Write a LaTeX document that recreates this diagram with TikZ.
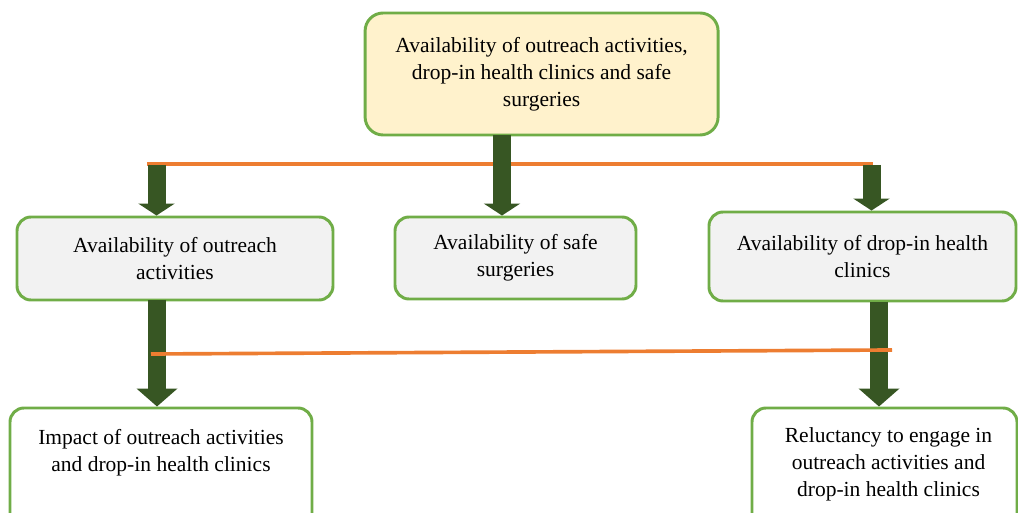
\documentclass[tikz,border=0pt]{standalone}
\usepackage{fontspec}
\setmainfont{LiberationSerif}[Extension=.ttf,UprightFont=*-Regular,BoldFont=*-Bold]
\usepackage{tikz}
\usetikzlibrary{arrows.meta,positioning,calc}
\definecolor{cEdge}{HTML}{70AD47}
\definecolor{cTop}{HTML}{FFF2CC}
\definecolor{cMid}{HTML}{F2F2F2}
\definecolor{cBar}{HTML}{ED7D31}
\definecolor{cArr}{HTML}{375623}

\begin{document}
\begin{tikzpicture}[
  font=\fontsize{15.3}{19.2}\selectfont,
  box/.style={draw=cEdge,line width=2.1pt,rounded corners=3.5mm,align=center,
              inner sep=2pt},
  txt/.style={align=center,inner sep=0pt},
  bar/.style={cBar,line width=2.6pt},
  fat/.style={cArr,line width=0.45cm,-{Triangle[width=0.9cm,length=0.3cm]}},
  fatter/.style={cArr,line width=0.45cm,-{Triangle[width=1cm,length=0.45cm]}}
]
\useasboundingbox (0,0) rectangle (25.45,-12.825);
\clip (0,0) rectangle (25.45,-12.825);

\node[box,fill=cTop,rounded corners=4.5mm,minimum width=8.825cm,minimum height=3.05cm]
  (top) at (13.54,-1.85)
  {Availability of outreach activities,\\ drop-in health clinics and safe\\ surgeries};

\node[box,fill=cMid,minimum width=7.9cm,minimum height=2.075cm] (oa) at (4.375,-6.4625)
  {Availability of outreach\\ activities};
\node[box,fill=cMid,minimum width=6.025cm,minimum height=2.05cm] (ss) at (12.8875,-6.45)
  {Availability of safe\\ surgeries};
\node[box,fill=cMid,minimum width=7.675cm,minimum height=2.225cm] (dc) at (21.5625,-6.4125)
  {Availability of drop-in health\\ clinics};

\node[box,fill=white,minimum width=7.55cm,minimum height=3.3cm] (imp) at (4.025,-11.85) {};
\node[txt,below=0.56cm of imp.north] (imptxt)
  {Impact of outreach activities\\ and drop-in health clinics};
\node[box,fill=white,minimum width=6.625cm,minimum height=3.3cm] (rel) at (22.1125,-11.85) {};
\node[txt,below=0.52cm of rel.north,xshift=1mm] (reltxt)
  {Reluctancy to engage in\\ outreach activities and\\ drop-in health clinics};

% first split
\coordinate (b1w) at (3.675,-4.1);
\coordinate (b1e) at (21.825,-4.1);
\draw[bar] (b1w) -- (b1e);
\coordinate (la) at (3.9125,-4.125);
\coordinate (ca) at (12.55,-3.375);
\coordinate (ra) at (21.7875,-4.125);
\draw[fat] (ca) -- (ca |- ss.north);
\draw[fat] (la) -- (la |- oa.north);
\draw[fat] (ra) -- (ra |- dc.north);

% second split
\coordinate (lb) at (3.925,-7.5);
\coordinate (rb) at (21.975,-7.55);
\draw[fatter] (lb) -- (lb |- imp.north);
\draw[fatter] (rb) -- (rb |- rel.north);
\coordinate (b2w) at (3.775,-8.85);
\coordinate (b2e) at (22.3,-8.75);
\draw[bar] (b2w) -- (b2e);
\end{tikzpicture}
\end{document}
